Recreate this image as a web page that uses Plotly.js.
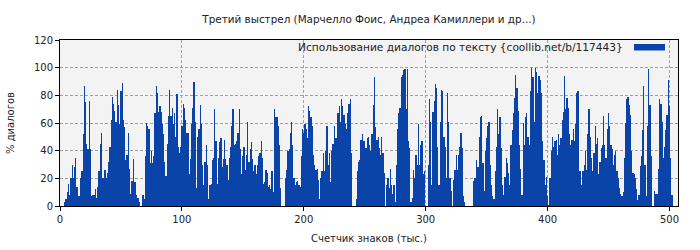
<!DOCTYPE html>
<html>
<head>
<meta charset="utf-8">
<script src="https://cdn.plot.ly/plotly-3.0.1.min.js"></script>
<style>html,body{margin:0;padding:0;background:#fff;}#chart{width:700px;height:250px;}</style>
</head>
<body>
<div id="chart"></div>
<script>
// % of dialogue per 1000 characters, counter starts at 1
var dialog_1_42 = [0,0,0,3,5,10,16,8,20,30,20,28,35,14,7,7,20,25,52,87,75,45,41,76,41,7,8,8,12,6,14,25,45,53,20,20,26,20,24,32,43,62];
var dialog_43_85 = [79,74,69,61,84,73,59,83,89,62,57,33,37,53,27,9,18,34,17,17,8,6,3,0,0,8,5,36,60,58,56,31,40,31,36,67,87,82,68,72,68,59,52];
var dialog_86_126 = [32,22,45,65,84,65,71,59,67,50,81,43,38,43,58,74,71,62,53,53,23,34,59,71,90,61,13,50,56,73,59,30,15,32,44,30,5,15,16,33,35];
var dialog_127_170 = [70,47,16,35,46,49,28,34,48,34,30,19,35,43,58,70,44,45,47,53,70,41,23,36,43,26,37,61,32,41,46,34,25,30,23,30,36,38,47,35,16,17,26,24];
var dialog_171_212 = [14,15,12,25,10,70,64,64,58,44,13,0,0,0,20,26,40,41,53,61,44,20,15,17,18,15,14,36,56,53,59,56,49,72,69,64,58,37,30,26,27,19];
var dialog_213_255 = [5,20,25,38,25,40,58,30,38,17,40,45,58,49,49,67,72,61,77,72,66,59,56,67,74,77,38,0,0,0,5,25,32,33,48,52,47,47,42,49,50,44,40];
var dialog_256_297 = [52,73,93,57,48,50,42,37,50,38,24,0,15,20,13,27,15,9,15,3,30,56,67,71,93,95,98,99,70,99,47,42,3,6,26,20,37,30,59,30,44,47];
var dialog_298_340 = [23,25,0,0,30,77,61,15,68,76,88,85,43,15,61,84,83,50,43,20,82,61,20,11,0,19,26,37,26,37,43,53,42,7,3,0,0,0,0,0,0,18,20];
var dialog_341_383 = [20,33,28,50,64,65,31,11,40,49,58,61,30,15,7,5,25,43,70,52,64,42,15,8,21,35,31,24,15,44,55,67,78,95,85,69,44,27,8,60,44,64,67];
var dialog_384_425 = [50,44,83,100,93,61,100,97,82,94,91,82,47,33,15,21,7,1,20,40,50,43,47,48,37,52,44,49,62,68,94,70,78,71,52,44,48,56,47,59,82,83];
var dialog_426_468 = [25,25,15,25,30,40,26,52,70,50,35,25,38,58,45,49,23,32,42,44,65,44,35,56,67,58,44,41,30,37,40,25,20,13,9,7,10,35,60,77,79,73,66];
var dialog_469_502 = [40,24,23,20,12,4,8,29,36,55,87,30,7,58,99,73,36,0,0,11,9,9,27,77,74,61,35,43,55,66,91,72,35,8];

var xTicks = [0,100,200,300,400,500];
var yTicks = [0,20,40,60,80,100,120];

var titleText = "Третий выстрел (Марчелло Фоис, Андреа Камиллери и др...)";
var seriesName = "Использование диалогов по тексту {coollib.net/b/117443}";
var xTitle = "Счетчик знаков (тыс.)";
var yTitle = "% диалогов";

var values = [].concat(dialog_1_42, dialog_43_85, dialog_86_126, dialog_127_170,
  dialog_171_212, dialog_213_255, dialog_256_297, dialog_298_340,
  dialog_341_383, dialog_384_425, dialog_426_468, dialog_469_502);
var counters = values.map(function(v, i){ return i + 1; });

var blue = '#0b44a9';
var font = 'DejaVu Sans, sans-serif';

var trace = {
  type: 'bar',
  x: counters,
  y: values,
  name: seriesName,
  marker: {color: blue, line: {width: 0}},
  showlegend: false,
  hoverinfo: 'x+y'
};

var gridStyle = {gridcolor: '#a0a0a0', griddash: '3px,2px', gridwidth: 1};

var layout = {
  width: 700, height: 250,
  margin: {l: 60, r: 22, t: 40, b: 44},
  paper_bgcolor: '#ffffff',
  plot_bgcolor: '#f3f3f3',
  bargap: 0,
  font: {family: font, size: 10, color: '#222'},
  title: {text: titleText, font: {family: font, size: 10.4, color: '#222'},
          x: 0.5, xref: 'paper', xanchor: 'center', y: 1 - 19/250, yanchor: 'middle'},
  xaxis: Object.assign({
    range: [0, 507], tickvals: xTicks, ticktext: xTicks.map(String),
    showgrid: true, zeroline: false,
    showline: true, linecolor: '#000', linewidth: 1, mirror: true,
    ticks: 'outside', ticklen: 4, tickcolor: '#000',
    tickfont: {family: font, size: 10, color: '#222'},
    title: {text: xTitle, font: {family: font, size: 10, color: '#222'}, standoff: 10}
  }, gridStyle),
  yaxis: Object.assign({
    range: [0, 120], tickvals: yTicks, ticktext: yTicks.map(String),
    showgrid: true, zeroline: false,
    showline: true, linecolor: '#000', linewidth: 1, mirror: true,
    ticks: 'outside', ticklen: 4, tickcolor: '#000',
    tickfont: {family: font, size: 10, color: '#222'},
    title: {text: yTitle, font: {family: font, size: 10, color: '#222'}, standoff: 17}
  }, gridStyle),
  annotations: [{
    xref: 'paper', yref: 'paper', x: (625-60)/618, y: (206-47)/166,
    xanchor: 'right', yanchor: 'middle', showarrow: false,
    text: seriesName, font: {family: font, size: 10.6, color: '#222'}
  }],
  shapes: [{
    type: 'rect', xref: 'paper', yref: 'paper',
    x0: (634-60)/618, x1: (665-60)/618, y0: (206-50.5)/166, y1: (206-44)/166,
    fillcolor: blue, line: {width: 0}
  }]
};

Plotly.newPlot('chart', [trace], layout, {displayModeBar: false, staticPlot: true});
</script>
</body>
</html>
